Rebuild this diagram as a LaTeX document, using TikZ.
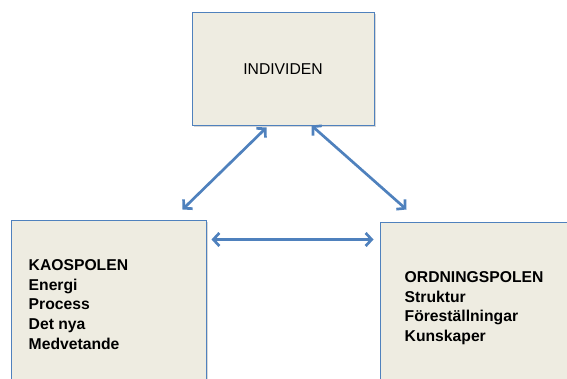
\documentclass[tikz,border=0pt]{standalone}
\usepackage{fontspec}
\setmainfont{Liberation Sans}
\usetikzlibrary{arrows.meta,shadows}
\definecolor{polfill}{HTML}{EEECE1}
\definecolor{polblue}{HTML}{4F81BD}
\begin{document}
\begin{tikzpicture}[x=1pt,y=1pt,
  pole/.style={rectangle,draw=polblue,line width=1pt,fill=polfill,inner sep=0pt,
    drop shadow={shadow xshift=1.5pt,shadow yshift=-1.5pt,fill=black!30,opacity=0.5}},
  poltext/.style={anchor=north west,inner sep=0pt,align=left,font=\fontsize{15.7}{19.6}\selectfont\bfseries},
  link/.style={draw=polblue,line width=2.7pt,{Straight Barb[length=6pt,width=13pt]}-{Straight Barb[length=6pt,width=13pt]}}]
\clip (0,0) rectangle (567,379);
	\node[pole,minimum width=182pt,minimum height=113pt,font=\fontsize{15.7}{19.6}\selectfont] (indiv) at (283,309.5) {INDIVIDEN};
	\node[pole,minimum width=195pt,minimum height=168pt] (kaos) at (108.5,74) {};
	\node[pole,minimum width=200pt,minimum height=166pt] (ordn) at (480,73) {};
	\node[poltext] (kaostext) at ([xshift=18pt,yshift=-39pt]kaos.north west)
    	{KAOSPOLEN\\Energi\\Process\\Det nya\\Medvetande};
	\node[poltext] (ordntext) at ([xshift=25pt,yshift=-49pt]ordn.north west)
    	{ORDNINGSPOLEN\\Struktur\\Föreställningar\\Kunskaper};
\draw[link] ([xshift=-24pt,yshift=11pt]kaos.north east) -- ([xshift=75pt,yshift=-1pt]indiv.south west);
\draw[link] ([xshift=-63pt,yshift=1pt]indiv.south east) -- ([xshift=27pt,yshift=13pt]ordn.north west);
\draw[link] ([xshift=5pt,yshift=-19pt]kaos.north east) -- ([xshift=-6pt,yshift=-17pt]ordn.north west);
	\end{tikzpicture}
\end{document}
